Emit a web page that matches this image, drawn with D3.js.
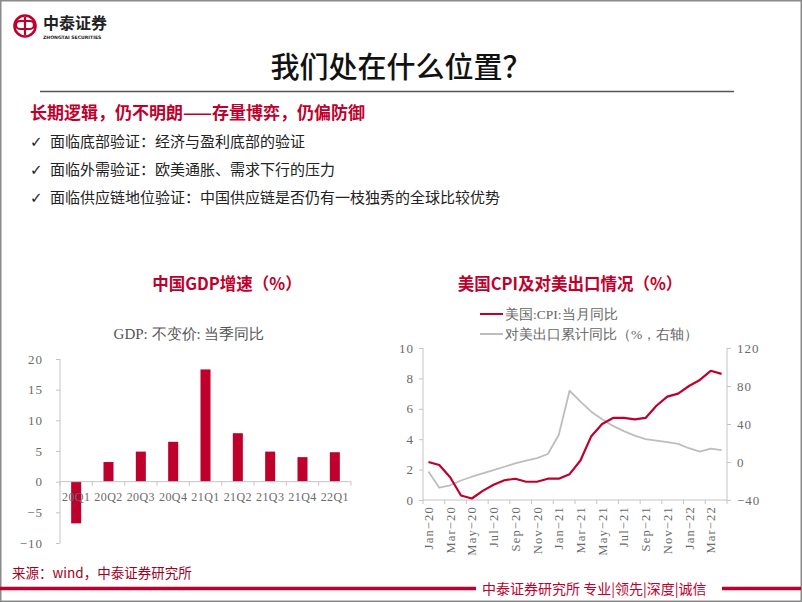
<!DOCTYPE html>
<html><head><meta charset="utf-8">
<script src="https://cdn.jsdelivr.net/npm/d3@7"></script>
<style>
body{margin:0;background:#fff;}
svg{display:block;}
</style></head>
<body>
<svg id="c" width="802" height="602"></svg>
<script>
// ---------- data ----------
const gdpCategories = ["20Q1","20Q2","20Q3","20Q4","21Q1","21Q2","21Q3","21Q4","22Q1"];
const gdpValues = [-6.8, 3.2, 4.9, 6.5, 18.3, 7.9, 4.9, 4.0, 4.8];
const gdpTicks = [20, 15, 10, 5, 0, -5, -10];

const months = ["Jan-20","Feb-20","Mar-20","Apr-20","May-20","Jun-20","Jul-20","Aug-20","Sep-20","Oct-20","Nov-20","Dec-20",
                "Jan-21","Feb-21","Mar-21","Apr-21","May-21","Jun-21","Jul-21","Aug-21","Sep-21","Oct-21","Nov-21","Dec-21",
                "Jan-22","Feb-22","Mar-22","Apr-22"];
const usCpi = [2.5,2.3,1.5,0.3,0.1,0.6,1.0,1.3,1.4,1.2,1.2,1.4,1.4,1.7,2.6,4.2,5.0,5.4,5.4,5.3,5.4,6.2,6.8,7.0,7.5,7.9,8.5,8.3];
const exportUs = [-10,-27,-24.5,-19.5,-15.5,-12,-8.5,-5,-1.5,1.5,4,8.4,28.4,75,63.5,53,45,38,32.5,27.7,24,22.5,21,19,14.5,11,14,12.5];
const cpiTicks = [0,2,4,6,8,10];
const exportTicks = [-40,0,40,80,120];
const monthTickLabels = ["Jan-20","Mar-20","May-20","Jul-20","Sep-20","Nov-20","Jan-21","Mar-21","May-21","Jul-21","Sep-21","Nov-21","Jan-22","Mar-22"];

const bullets = ["面临底部验证：经济与盈利底部的验证","面临外需验证：欧美通胀、需求下行的压力","面临供应链地位验证：中国供应链是否仍有一枝独秀的全球比较优势"];

// ---------- styles ----------
const RED = "#c0002c";
const GRAY_LINE = "#bdbdbd";
const AXIS = "#c4c4c4";
const TICK_TXT = "#6a6a6a";
const SERIF = "'Liberation Serif','Times New Roman',serif";
const CJK = "'Noto Sans CJK SC','Noto Sans',sans-serif";

const svg = d3.select("#c");

// frame
svg.append("rect").attr("x",0.75).attr("y",0.75).attr("width",800.5).attr("height",600.5)
  .attr("fill","none").attr("stroke","#8a8a8a").attr("stroke-width",1.5);

// logo
const logo = svg.append("g");
logo.append("circle").attr("cx",25).attr("cy",26).attr("r",10.5).attr("fill","none").attr("stroke",RED).attr("stroke-width",2.6);
logo.append("path").attr("d","M20,21 a4,4 0 1,0 0,8 h10 a4,4 0 1,0 0,-8 Z M25,17 v18").attr("fill","none").attr("stroke",RED).attr("stroke-width",2.2);
logo.append("text").attr("x",43).attr("y",29).attr("font-family",CJK).attr("font-weight",700).attr("font-size",16).attr("fill","#222").text("中泰证券");
logo.append("text").attr("x",43).attr("y",38.5).attr("font-family","'DejaVu Sans',sans-serif").attr("font-weight",700).attr("font-size",4.6).attr("fill","#222").text("ZHONGTAI SECURITIES");

// title
svg.append("text").attr("x",401).attr("y",78).attr("text-anchor","middle").attr("font-family",CJK)
  .attr("font-size",29).attr("font-weight",500).attr("fill","#111").text("我们处在什么位置？");
svg.append("line").attr("x1",40).attr("x2",734).attr("y1",91.5).attr("y2",91.5).attr("stroke","#555").attr("stroke-width",1.5);

// red heading
svg.append("text").attr("x",30).attr("y",119).attr("font-family",CJK).attr("font-weight",700)
  .attr("font-size",17).attr("fill",RED).text("长期逻辑，仍不明朗——存量博弈，仍偏防御");

// bullets
const by = [147, 175, 203];
bullets.forEach((t,i)=>{
  svg.append("text").attr("x",30).attr("y",by[i]).attr("font-family","'DejaVu Sans',sans-serif").attr("font-size",15).attr("fill","#222").text("✓");
  svg.append("text").attr("x",50).attr("y",by[i]).attr("font-family",CJK).attr("font-size",15).attr("fill","#222").text(t);
});

// ---------- Left chart: GDP ----------
svg.append("text").attr("x",227).attr("y",290).attr("text-anchor","middle").attr("font-family",CJK)
  .attr("font-weight",700).attr("font-size",16.5).attr("fill",RED).text("中国GDP增速（%）");
svg.append("text").attr("x",189).attr("y",339).attr("text-anchor","middle").attr("font-family",SERIF)
  .attr("font-size",15).attr("fill","#555").text("GDP: 不变价: 当季同比");

const gx = d3.scaleBand().domain(gdpCategories).range([60,351]).padding(0);
const gy = d3.scaleLinear().domain([-10,20]).range([543,359]);

const gYAxis = svg.append("g").attr("transform","translate(60,0)")
  .call(d3.axisLeft(gy).tickValues(gdpTicks).tickSize(4).tickPadding(13).tickFormat(d=>d<0?"−"+Math.abs(d):d));
gYAxis.select(".domain").attr("stroke",AXIS).attr("d",`M0,${gy(20)}V${gy(-10)}`);
gYAxis.selectAll(".tick line").attr("stroke",AXIS);
gYAxis.selectAll(".tick text").attr("font-family",SERIF).attr("font-size",13).attr("fill",TICK_TXT).attr("letter-spacing",1);

// bars
svg.append("g").selectAll("rect").data(gdpValues).join("rect")
  .attr("x",(d,i)=>gx(gdpCategories[i])+gx.bandwidth()*0.345)
  .attr("width",gx.bandwidth()*0.31)
  .attr("y",d=>gy(Math.max(0,d)))
  .attr("height",d=>Math.abs(gy(d)-gy(0)))
  .attr("fill",RED);

// x axis at zero
const g0 = gy(0);
svg.append("line").attr("x1",60).attr("x2",351).attr("y1",g0).attr("y2",g0).attr("stroke",AXIS);
svg.append("g").selectAll("line").data(gdpCategories.concat(["end"])).join("line")
  .attr("x1",(d,i)=>gx.range()[0]+i*gx.step()).attr("x2",(d,i)=>gx.range()[0]+i*gx.step())
  .attr("y1",g0).attr("y2",g0+4).attr("stroke",AXIS);
svg.append("g").selectAll("text").data(gdpCategories).join("text")
  .attr("x",d=>gx(d)+gx.bandwidth()/2).attr("y",g0+19).attr("text-anchor","middle")
  .attr("font-family",SERIF).attr("font-size",12).attr("letter-spacing",0.4).attr("fill",TICK_TXT).text(d=>d);

// ---------- Right chart: US CPI ----------
svg.append("text").attr("x",570).attr("y",290).attr("text-anchor","middle").attr("font-family",CJK)
  .attr("font-weight",700).attr("font-size",16.5).attr("fill",RED).text("美国CPI及对美出口情况（%）");

// legend
svg.append("line").attr("x1",480).attr("x2",503).attr("y1",314).attr("y2",314).attr("stroke",RED).attr("stroke-width",2);
svg.append("text").attr("x",505).attr("y",319).attr("font-family",SERIF).attr("font-size",13.5).attr("fill","#666").text("美国:CPI:当月同比");
svg.append("line").attr("x1",480).attr("x2",503).attr("y1",334).attr("y2",334).attr("stroke",GRAY_LINE).attr("stroke-width",2);
svg.append("text").attr("x",505).attr("y",339).attr("font-family",SERIF).attr("font-size",13.5).attr("fill","#666").text("对美出口累计同比（%，右轴）");

const mx = d3.scaleBand().domain(months).range([423,727]).padding(0);
const ly = d3.scaleLinear().domain([0,10]).range([500,348]);
const ry = d3.scaleLinear().domain([-40,120]).range([500,348]);

const lAxis = svg.append("g").attr("transform","translate(423,0)")
  .call(d3.axisLeft(ly).tickValues(cpiTicks).tickSize(4).tickPadding(5));
lAxis.select(".domain").attr("stroke",AXIS).attr("d",`M0,348V500`);
lAxis.selectAll(".tick line").attr("stroke",AXIS);
lAxis.selectAll(".tick text").attr("font-family",SERIF).attr("font-size",13).attr("fill",TICK_TXT).attr("letter-spacing",1);

const rAxis = svg.append("g").attr("transform","translate(727,0)")
  .call(d3.axisRight(ry).tickValues(exportTicks).tickSize(4).tickPadding(6).tickFormat(d=>d<0?"−"+Math.abs(d):d));
rAxis.select(".domain").attr("stroke",AXIS).attr("d",`M0,348V500`);
rAxis.selectAll(".tick line").attr("stroke",AXIS);
rAxis.selectAll(".tick text").attr("font-family",SERIF).attr("font-size",13).attr("fill",TICK_TXT).attr("letter-spacing",1);

// x axis
svg.append("line").attr("x1",423).attr("x2",727).attr("y1",500).attr("y2",500).attr("stroke",AXIS);
svg.append("g").selectAll("line").data(monthTickLabels).join("line")
  .attr("x1",d=>mx(d)).attr("x2",d=>mx(d)).attr("y1",500).attr("y2",504).attr("stroke",AXIS);
svg.append("line").attr("x1",727).attr("x2",727).attr("y1",500).attr("y2",504).attr("stroke",AXIS);
svg.append("g").selectAll("text").data(monthTickLabels).join("text")
  .attr("transform",d=>`translate(${mx(d)+mx.bandwidth()/2+4.5},506) rotate(-90)`)
  .attr("text-anchor","end").attr("font-family",SERIF).attr("font-size",12.5).attr("letter-spacing",1.2)
  .attr("fill",TICK_TXT).text(d=>d.replace("-","−"));

// lines
const cx = (d,i)=>mx(months[i])+mx.bandwidth()/2;
svg.append("path").datum(exportUs)
  .attr("d",d3.line().x(cx).y(d=>ry(d)))
  .attr("fill","none").attr("stroke",GRAY_LINE).attr("stroke-width",1.8).attr("stroke-linejoin","round");
svg.append("path").datum(usCpi)
  .attr("d",d3.line().x(cx).y(d=>ly(d)))
  .attr("fill","none").attr("stroke",RED).attr("stroke-width",2.2).attr("stroke-linejoin","round");

// ---------- footer ----------
svg.append("text").attr("x",12).attr("y",578).attr("font-family",CJK).attr("font-size",13.5).attr("fill","#a0001e").text("来源：wind，中泰证券研究所");
svg.append("line").attr("x1",0).attr("x2",476).attr("y1",588.5).attr("y2",588.5).attr("stroke",RED).attr("stroke-width",3.5);
svg.append("line").attr("x1",722).attr("x2",801).attr("y1",588.5).attr("y2",588.5).attr("stroke",RED).attr("stroke-width",3.5);
svg.append("text").attr("x",482).attr("y",594).attr("font-family",CJK).attr("font-size",14).attr("fill",RED).text("中泰证券研究所 专业|领先|深度|诚信");
</script>
</body></html>
